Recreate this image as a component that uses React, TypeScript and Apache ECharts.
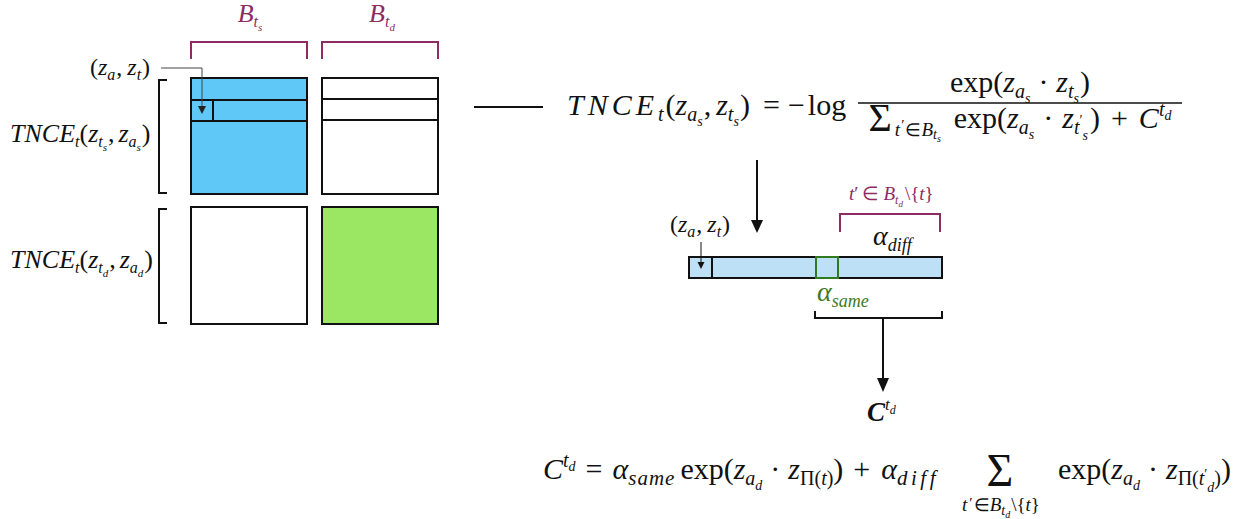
import React, { useEffect, useRef } from "react";
import * as echarts from "echarts";

const FAM = '"Liberation Serif", "Times New Roman", serif';
const INK = "#111111";
const PURPLE = "#8c2c62";
const BLUE = "#5fc8f6";
const LIGHT_BLUE = "#bee0f7";
const GREEN = "#9be662";
const DARK_GREEN = "#2f7b20";
const TEXT_GREEN = "#3a7a26";

type Tok = { t: string; s?: number; it?: boolean; b?: boolean; dy?: number; c?: string; ls?: number; g?: number };

// ---- text content (token lists) ----
const pairLabel: Tok[] = [
  { t: "(" }, { t: "z", it: true }, { t: "a", it: true, s: 16, dy: 5, g: 1 }, { t: ",", g: 5 },
  { t: "z", it: true }, { t: "t", it: true, s: 16, dy: 5, g: 1 }, { t: ")" },
];
const blockSLabel: Tok[] = [{ t: "B", it: true }, { t: "t", it: true, s: 16, dy: 5 }, { t: "s", it: true, s: 11, dy: 9 }];
const blockDLabel: Tok[] = [{ t: "B", it: true }, { t: "t", it: true, s: 16, dy: 5 }, { t: "d", it: true, s: 11, dy: 9 }];
const rowSLabel: Tok[] = [
  { t: "TNCE", it: true }, { t: "t", it: true, s: 16, dy: 5 }, { t: "(" }, { t: "z", it: true },
  { t: "t", it: true, s: 16, dy: 5 }, { t: "s", it: true, s: 11, dy: 9, g: 1 }, { t: ",", g: 4 }, { t: "z", it: true },
  { t: "a", it: true, s: 16, dy: 5 }, { t: "s", it: true, s: 11, dy: 9, g: 1 }, { t: ")" },
];
const rowDLabel: Tok[] = [
  { t: "TNCE", it: true }, { t: "t", it: true, s: 16, dy: 5 }, { t: "(" }, { t: "z", it: true },
  { t: "t", it: true, s: 16, dy: 5 }, { t: "d", it: true, s: 11, dy: 9, g: 1 }, { t: ",", g: 4 }, { t: "z", it: true },
  { t: "a", it: true, s: 16, dy: 5 }, { t: "d", it: true, s: 11, dy: 9, g: 1 }, { t: ")" },
];
const eqTopLhs: Tok[] = [
  { t: "TNCE", it: true, ls: 4 }, { t: "t", it: true, s: 20, dy: 6, g: 2 }, { t: "(" },
  { t: "z", it: true }, { t: "a", it: true, s: 20, dy: 6 }, { t: "s", it: true, s: 14, dy: 11, g: 1 }, { t: ",", g: 5 },
  { t: "z", it: true }, { t: "t", it: true, s: 20, dy: 6 }, { t: "s", it: true, s: 14, dy: 11, g: 1 }, { t: ")" },
];
const eqTopRel: Tok[] = [{ t: "=", g: 8 }, { t: "−", g: 3 }, { t: "log" }];
const eqTopNum: Tok[] = [
  { t: "exp" }, { t: "(" }, { t: "z", it: true }, { t: "a", it: true, s: 20, dy: 6 }, { t: "s", it: true, s: 14, dy: 11, g: 8 },
  { t: "·", g: 8 }, { t: "z", it: true }, { t: "t", it: true, s: 20, dy: 6 }, { t: "s", it: true, s: 14, dy: 11, g: 1 }, { t: ")" },
];
const eqTopDen: Tok[] = [
  { t: "Σ", s: 40, dy: 3, g: 3 }, { t: "t", it: true, s: 19, dy: 8, g: 1 }, { t: "′", s: 15, dy: 2, g: 1 }, { t: "∈", s: 18, dy: 8 },
  { t: "B", it: true, s: 19, dy: 8 }, { t: "t", it: true, s: 14, dy: 11 }, { t: "s", it: true, s: 10, dy: 14, g: 13 },
  { t: "exp" }, { t: "(" }, { t: "z", it: true }, { t: "a", it: true, s: 20, dy: 6 }, { t: "s", it: true, s: 14, dy: 11, g: 9 },
  { t: "·", g: 9 }, { t: "z", it: true }, { t: "t", it: true, s: 20, dy: 6 }, { t: "′", s: 14, dy: -3 }, { t: "s", it: true, s: 14, dy: 12, g: 2 },
  { t: ")", g: 11 }, { t: "+", g: 11 }, { t: "C", it: true }, { t: "t", it: true, s: 20, dy: -12 }, { t: "d", it: true, s: 14, dy: -8 },
];
const eqBotLeft: Tok[] = [
  { t: "C", it: true }, { t: "t", it: true, s: 20, dy: -12 }, { t: "d", it: true, s: 14, dy: -8, g: 10 }, { t: "=", g: 10 },
  { t: "α", it: true }, { t: "same", it: true, s: 21, dy: 6, ls: 1, g: 5 }, { t: "exp" }, { t: "(" }, { t: "z", it: true },
  { t: "a", it: true, s: 20, dy: 6 }, { t: "d", it: true, s: 14, dy: 11, g: 8 }, { t: "·", g: 8 }, { t: "z", it: true },
  { t: "Π", s: 20, dy: 6 }, { t: "(", s: 20, dy: 6 }, { t: "t", it: true, s: 20, dy: 6 }, { t: ")", s: 20, dy: 6 }, { t: ")", g: 10 },
  { t: "+", g: 11 }, { t: "α", it: true }, { t: "diff", it: true, s: 21, dy: 6, ls: 3.5 },
];
const eqBotSigma: Tok[] = [{ t: "Σ", s: 46 }];
const eqBotSigmaSub: Tok[] = [
  { t: "t", it: true, s: 19, g: 2 }, { t: "′", s: 15, dy: -3, g: 1 }, { t: "∈", s: 18 }, { t: "B", it: true, s: 19 },
  { t: "t", it: true, s: 14, dy: 4 }, { t: "d", it: true, s: 10, dy: 7, g: 1 }, { t: "\\{", s: 19 }, { t: "t", it: true, s: 19 }, { t: "}", s: 19 },
];
const eqBotRight: Tok[] = [
  { t: "exp" }, { t: "(" }, { t: "z", it: true }, { t: "a", it: true, s: 20, dy: 6 }, { t: "d", it: true, s: 14, dy: 11, g: 8 },
  { t: "·", g: 8 }, { t: "z", it: true }, { t: "Π", s: 20, dy: 6 }, { t: "(", s: 20, dy: 6 }, { t: "t", it: true, s: 20, dy: 6 },
  { t: "′", s: 14, dy: 0 }, { t: "d", it: true, s: 14, dy: 13 }, { t: ")", s: 20, dy: 6 }, { t: ")" },
];
const barPairLabel: Tok[] = pairLabel;
const diffSetLabel: Tok[] = [
  { t: "t", it: true }, { t: "′", g: 4 }, { t: "∈", g: 4 }, { t: "B", it: true }, { t: "t", it: true, s: 12, dy: 4 },
  { t: "d", it: true, s: 9, dy: 7, g: 2 }, { t: "\\{" }, { t: "t", it: true }, { t: "}" },
];
const alphaDiff: Tok[] = [{ t: "α", it: true }, { t: "diff", it: true, s: 18, dy: 6 }];
const alphaSame: Tok[] = [{ t: "α", it: true }, { t: "same", it: true, s: 18, dy: 6 }];
const cTdLabel: Tok[] = [{ t: "C", it: true, b: true }, { t: "t", it: true, s: 17, dy: -11 }, { t: "d", it: true, s: 12, dy: -7 }];

// ---- layout helpers ----
let mctx: CanvasRenderingContext2D | null = null;
function fontOf(tk: Tok, base: number) {
  return `${tk.it ? "italic " : ""}${tk.b ? "bold " : ""}${tk.s ?? base}px ${FAM}`;
}
function measure(text: string, font: string) {
  if (!mctx) mctx = document.createElement("canvas").getContext("2d");
  mctx!.font = font;
  return mctx!.measureText(text).width;
}
function rowWidth(toks: Tok[], base: number) {
  let w = 0;
  for (const tk of toks) {
    const f = fontOf(tk, base);
    const chars = tk.ls ? Array.from(tk.t) : [tk.t];
    for (const ch of chars) w += measure(ch, f) + (tk.ls ?? 0);
    w += tk.g ?? 0;
  }
  return w;
}
function row(out: any[], x0: number, baseline: number, toks: Tok[], base: number, color: string, align = "left") {
  let x = x0;
  if (align === "center") x = x0 - rowWidth(toks, base) / 2;
  for (const tk of toks) {
    const size = tk.s ?? base;
    const f = fontOf(tk, base);
    const chars = tk.ls ? Array.from(tk.t) : [tk.t];
    for (const ch of chars) {
      out.push({
        type: "text",
        silent: true,
        x,
        y: baseline + (tk.dy ?? 0) - 0.34 * size,
        style: {
          text: ch, font: f, fill: tk.c ?? color,
          textAlign: "left", textVerticalAlign: "middle", align: "left", verticalAlign: "middle",
        },
      });
      x += measure(ch, f) + (tk.ls ?? 0);
    }
    x += tk.g ?? 0;
  }
  return x;
}
const line = (x1: number, y1: number, x2: number, y2: number, stroke = INK, lw = 2) => ({
  type: "line", silent: true, shape: { x1, y1, x2, y2 }, style: { stroke, lineWidth: lw },
});
const poly = (points: number[][], stroke = INK, lw = 2) => ({
  type: "polyline", silent: true, shape: { points }, style: { stroke, lineWidth: lw, fill: "none" },
});
const head = (points: number[][], fill = INK) => ({ type: "polygon", silent: true, shape: { points }, style: { fill } });
const rect = (x: number, y: number, w: number, h: number, fill: string, stroke = INK, lw = 2) => ({
  type: "rect", silent: true, shape: { x, y, width: w, height: h }, style: { fill, stroke, lineWidth: lw },
});

function buildElements() {
  const el: any[] = [];
  // purple brackets + block labels
  el.push(poly([[191, 59], [191, 42], [307, 42], [307, 59]], PURPLE));
  el.push(poly([[322, 59], [322, 42], [438, 42], [438, 59]], PURPLE));
  row(el, 250, 22, blockSLabel, 26, PURPLE, "center");
  row(el, 382, 22, blockDLabel, 26, PURPLE, "center");

  // matrix blocks
  el.push(rect(191, 78, 116, 116, BLUE));
  el.push(line(191, 100, 307, 100));
  el.push(line(191, 121, 307, 121));
  el.push(line(213, 100, 213, 121));
  el.push(rect(322, 78, 116, 116, "#ffffff"));
  el.push(line(322, 99, 438, 99));
  el.push(line(322, 120, 438, 120));
  el.push(rect(191, 207, 116, 117, "#ffffff"));
  el.push(rect(322, 207, 116, 117, GREEN));

  // left brackets and labels
  el.push(poly([[167, 80], [159, 80], [159, 193], [167, 193]]));
  el.push(poly([[167, 209], [159, 209], [159, 323], [167, 323]]));
  row(el, 10, 142, rowSLabel, 26, INK);
  row(el, 10, 268, rowDLabel, 26, INK);

  // (z_a, z_t) pointer
  row(el, 90, 75, pairLabel, 24, INK);
  el.push(poly([[161, 68], [202, 68], [202, 108]], "#444444", 1));
  el.push(head([[198, 106], [206, 106], [202, 114]], "#222222"));

  // dash + top equation
  el.push(line(474, 107, 543, 107, INK, 2));
  row(el, 567, 115, eqTopLhs, 30, INK);
  row(el, 763, 115, eqTopRel, 30, INK);
  el.push(line(858, 103, 1182, 103, INK, 1.3));
  row(el, 1020, 92, eqTopNum, 30, INK, "center");
  row(el, 1020, 128, eqTopDen, 30, INK, "center");

  // down arrow to bar
  el.push(line(757, 160, 757, 222, INK, 2));
  el.push(head([[751, 220], [763, 220], [757, 233]]));

  // bar
  el.push(rect(689, 257, 253, 21, LIGHT_BLUE));
  el.push(line(712, 257, 712, 278));
  el.push(rect(816, 257, 22, 21, LIGHT_BLUE, DARK_GREEN, 2));
  el.push(line(701, 242, 701, 263, INK, 1));
  el.push(head([[697.5, 262], [704.5, 262], [701, 269]]));
  row(el, 670, 232, barPairLabel, 24, INK);

  // purple bracket over alpha_diff region
  el.push(poly([[840, 232], [840, 214], [940, 214], [940, 232]], PURPLE));
  row(el, 849, 200, diffSetLabel, 19, PURPLE);
  row(el, 873, 245, alphaDiff, 28, INK);
  row(el, 817, 301, alphaSame, 28, TEXT_GREEN);

  // bottom bracket + arrow
  el.push(poly([[815, 311], [815, 318], [942, 318], [942, 311]]));
  el.push(line(883, 318, 883, 380, INK, 2));
  el.push(head([[877, 378], [889, 378], [883, 392]]));
  row(el, 867, 421, cTdLabel, 27, INK);

  // bottom equation
  row(el, 543, 479, eqBotLeft, 30, INK);
  row(el, 1000, 486, eqBotSigma, 30, INK, "center");
  row(el, 1001, 511, eqBotSigmaSub, 19, INK, "center");
  row(el, 1058, 479, eqBotRight, 30, INK);
  return el;
}

export default function App() {
  const ref = useRef<HTMLDivElement>(null);
  useEffect(() => {
    document.body.style.margin = "0";
    const chart = echarts.init(ref.current!, undefined, { renderer: "svg" });
    chart.setOption({
      animation: false,
      backgroundColor: "#ffffff",
      graphic: { elements: buildElements() },
    });
    return () => chart.dispose();
  }, []);
  return <div ref={ref} style={{ width: 1248, height: 519 }} />;
}
